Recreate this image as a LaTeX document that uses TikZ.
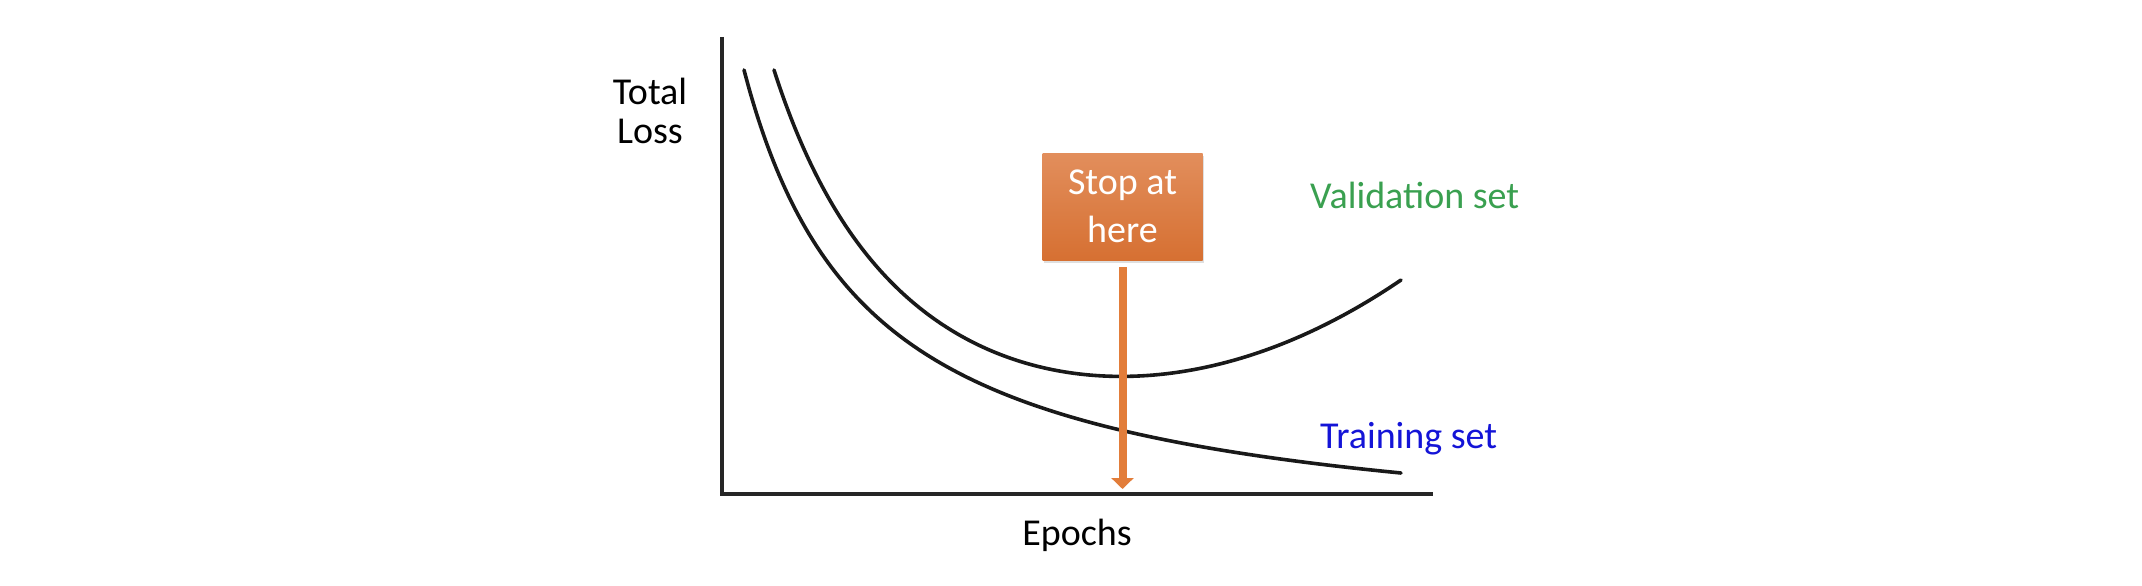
\documentclass[tikz,border=0pt]{standalone}
\usepackage{fontspec}
\setmainfont{Carlito}
\usetikzlibrary{arrows.meta,shadows}
\definecolor{valgreen}{RGB}{58,160,80}
\definecolor{trainblue}{RGB}{20,20,215}
\definecolor{boxtop}{RGB}{226,142,92}
\definecolor{boxbot}{RGB}{214,112,50}
\definecolor{arroworange}{RGB}{226,125,58}
\tikzset{
  lbl/.style={font=\fontsize{38}{39}\selectfont, inner sep=0pt},
  axisline/.style={line width=4pt, black!85},
  curveline/.style={line width=3.6pt, black!90, line cap=round},
  stopbox/.style={draw=none, top color=boxtop, bottom color=boxbot,
    minimum width=160pt, minimum height=107pt, inner sep=0pt, align=center,
    text=white, font=\fontsize{38}{48}\selectfont,
    drop shadow={opacity=0.25, shadow xshift=1pt, shadow yshift=-3pt}},
  stoparrow/.style={line width=8pt, arroworange, -{Triangle[width=22pt,length=11pt]}}
}
\begin{document}
\begin{tikzpicture}[x=1pt,y=-1pt]
\useasboundingbox (0,0) rectangle (2142,586);
% axes
\coordinate (origin) at (722,494);
\coordinate (ytop) at (722,37);
\coordinate (xend) at (1433,494);
\draw[axisline] (ytop) -- (origin) -- (xend);
% training curve
\draw[curveline] plot[domain=744:1401, samples=120, smooth]
  (\x, {549.8 - 600.74/((\x-618.8)/100)});
% validation curve
\draw[curveline] plot[domain=774:1401, samples=120, smooth]
  (\x, {620.3 - 953.52/((\x-600)/100) - 0.43047*((\x-600)/100)^3});
% labels
\node[lbl, anchor=base] (yl1) at (650,104) {Total};
\node[lbl, anchor=base] (yl2) at (650,143) {Loss};
\node[lbl, anchor=base] (xl) at (1077,545) {Epochs};
\node[lbl, anchor=base west, text=valgreen] (vl) at (1310,208) {Validation set};
\node[lbl, anchor=base west, text=trainblue] (tl) at (1320,448) {Training set};
% stop box and arrow
\node[stopbox] (stop) at (1122.5,206.5) {Stop at\\here};
\coordinate (stoptip) at (1122.5,489);
\draw[stoparrow] ([yshift=-7pt]stop.south) -- (stoptip);
\end{tikzpicture}
\end{document}
